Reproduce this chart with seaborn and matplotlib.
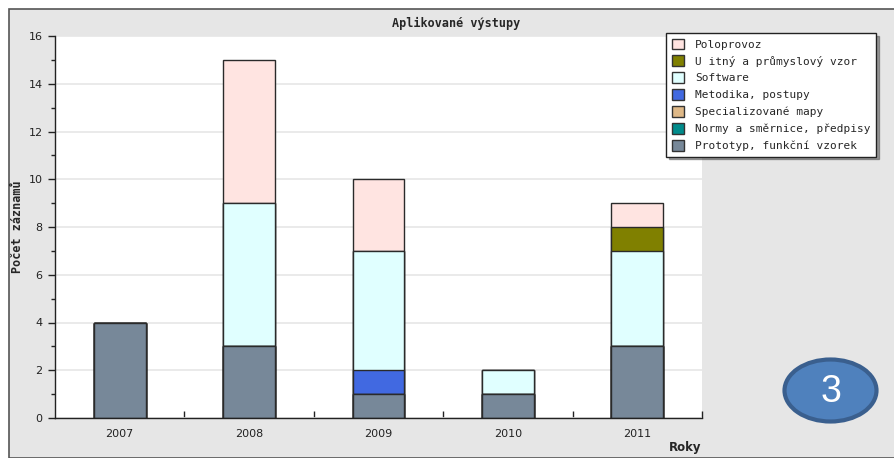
import matplotlib
matplotlib.use("Agg")
import numpy as np
import pandas as pd
import matplotlib.pyplot as plt
import seaborn as sns
from matplotlib.patches import Patch, Ellipse, Rectangle
from matplotlib.ticker import MultipleLocator, FixedLocator

years = ['2007', '2008', '2009', '2010', '2011']

# stack order from bottom to top
series_names = ['Prototyp, funkční vzorek', 'Normy a směrnice, předpisy', 'Specializované mapy',
                'Metodika, postupy', 'Software', 'U itný a průmyslový vzor', 'Poloprovoz']
prototyp = [4, 3, 1, 1, 3]
normy = [0, 0, 0, 0, 0]
mapy = [0, 0, 0, 0, 0]
metodika = [0, 0, 1, 0, 0]
software = [0, 6, 5, 1, 4]
uzitny = [0, 0, 0, 0, 1]
poloprovoz = [0, 6, 3, 0, 1]
series_colors = ['#778899', '#008b8b', '#deb887', '#4169e1', '#e0ffff', '#808000', '#ffe4e1']

sns.set_style('white')
mono = 'DejaVu Sans Mono'

fig = plt.figure(figsize=(8.94, 4.58), dpi=100)
fig.patch.set_facecolor('white')
# grey frame
fig.patches.append(Rectangle((9 / 894, 0), 1, 1 - 9 / 458, transform=fig.transFigure,
                             facecolor='#e6e6e6', edgecolor='#555555', lw=1.2, zorder=-10))

ax = fig.add_axes([55 / 894, 1 - 418 / 458, (702 - 55) / 894, (418 - 36) / 458])
ax.set_facecolor('white')

values = [prototyp, normy, mapy, metodika, software, uzitny, poloprovoz]
cum = np.cumsum(np.array(values), axis=0)
df = pd.DataFrame({'year': years})
for name, c in zip(series_names, cum):
    df[name] = c

# draw tallest cumulative first so each layer shows through
for name, col in reversed(list(zip(series_names, series_colors))):
    sns.barplot(data=df, x='year', y=name, color=col, width=0.4, edgecolor='#2a2a2a',
                linewidth=1, saturation=1, ax=ax, zorder=2)

ax.set_xlim(-0.5, 4.5)
ax.set_ylim(0, 16)
ax.yaxis.set_major_locator(MultipleLocator(2))
ax.yaxis.set_minor_locator(MultipleLocator(1))
ax.grid(axis='y', which='major', color='#e6e6e6', lw=1.2, zorder=0)
ax.set_axisbelow(True)
for s in ['top', 'right']:
    ax.spines[s].set_visible(False)
for s in ['left', 'bottom']:
    ax.spines[s].set_color('#222222')
    ax.spines[s].set_linewidth(1)

ax.tick_params(axis='y', which='major', direction='out', length=5, width=1, color='#222222',
               labelsize=8, labelcolor='#222222', left=True, pad=4)
ax.tick_params(axis='y', which='minor', direction='out', length=3, width=1, color='#222222', left=True)
ax.xaxis.set_minor_locator(FixedLocator([0.5, 1.5, 2.5, 3.5, 4.5]))
ax.tick_params(axis='x', which='major', length=0, labelsize=8, labelcolor='#222222', pad=8)
ax.tick_params(axis='x', which='minor', direction='in', length=5, width=1, color='#222222', bottom=True)

ax.set_xlabel('')
ax.set_ylabel('')
fig.text(456 / 894, 1 - 23 / 458, 'Aplikované výstupy', ha='center', va='center',
         fontsize=8.5, fontweight='bold', family=mono)
fig.text(18 / 894, 1 - 227 / 458, 'Počet záznamů', ha='center', va='center', rotation=90,
         fontsize=8.5, fontweight='bold', family=mono)
fig.text(701 / 894, 1 - 447 / 458, 'Roky', ha='right', va='center',
         fontsize=8.5, fontweight='bold', family='DejaVu Sans')

handles = [Patch(facecolor=c, edgecolor='#333333', lw=1) for c in reversed(series_colors)]
leg = fig.legend(handles, list(reversed(series_names)), loc='upper left',
                 bbox_to_anchor=(666 / 894, 1 - 33 / 458), fancybox=False, shadow=True,
                 edgecolor='#222222', framealpha=1, prop={'family': mono, 'size': 8},
                 handlelength=1.1, handleheight=1.1, labelspacing=0.52, borderpad=0.5,
                 handletextpad=1.0, borderaxespad=0)
leg.get_frame().set_linewidth(1)

# blue numbered badge
badge = Ellipse((830.5 / 894, 1 - 390.5 / 458), 92 / 894, 62 / 458, transform=fig.transFigure,
                facecolor='#4f81bd', edgecolor='#3a5f8e', lw=3, zorder=5)
fig.patches.append(badge)
fig.text(830.5 / 894, 1 - 392 / 458, '3', ha='center', va='center', color='white',
         fontsize=27, family='Liberation Sans', zorder=6)

fig.savefig('out.png', dpi=100)
